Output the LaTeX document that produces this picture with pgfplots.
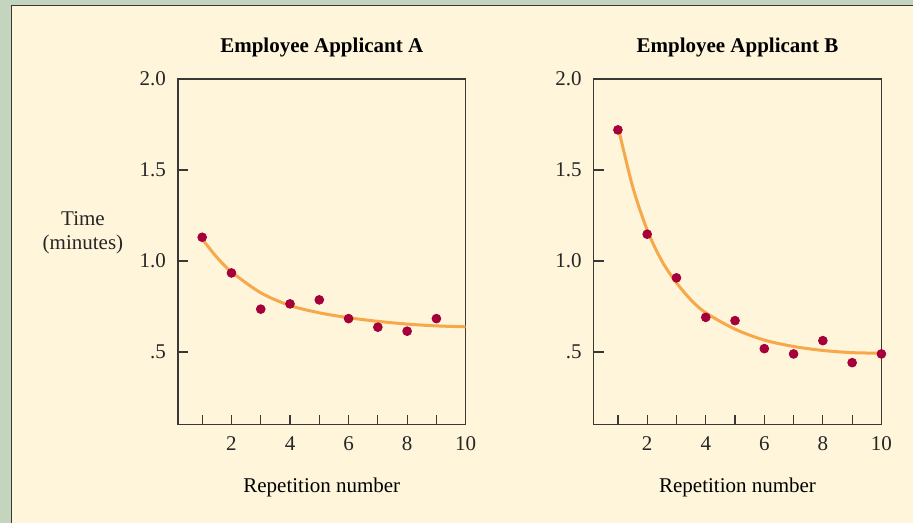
\documentclass[border=0pt]{standalone}
\usepackage{fontspec}
\setmainfont{Liberation Serif}
\usepackage{pgfplots}
\pgfplotsset{compat=1.18}
\definecolor{cream}{HTML}{FEF5DA}
\definecolor{sage}{HTML}{C4D5BD}
\definecolor{dot}{HTML}{A5003A}
\definecolor{curvec}{HTML}{F7A84A}
\definecolor{axc}{HTML}{3A3735}
\pgfplotsset{myax/.style={
 scale only axis, width=144pt, height=173pt,
 xmin=0.17, xmax=10, ymin=0.1, ymax=2.0,
 xtick={1,...,10}, xticklabels={,2,,4,,6,,8,,10},
 ytick={0.5,1,1.5,2}, yticklabels={.5,1.0,1.5,2.0},
 xtick pos=lower, ytick pos=left, tick align=inside,
 major tick length=5pt,
 axis line style={axc, line width=0.75pt},
 every tick/.style={axc, line width=0.6pt},
 tick label style={font=\fontsize{10.5}{12}\selectfont, text=black!85},
 yticklabel style={xshift=-2.5pt},
 xticklabel style={yshift=-2.5pt},
 /pgf/number format/assume math mode=true,
 clip=false,
 title style={font=\bfseries\fontsize{10.5}{12}\selectfont, at={(0.5,1)}, anchor=base, yshift=7pt},
 xlabel style={font=\fontsize{10.5}{12}\selectfont, at={(0.5,0)}, anchor=base, yshift=-34pt},
}}
\begin{document}
\begin{tikzpicture}
\fill[sage] (0,0) rectangle (457pt,261.5pt);
\fill[cream] (5.75pt,0) rectangle (457pt,258.75pt);
\draw[axc, line width=0.6pt] (5.75pt,0) -- (5.75pt,258.75pt) -- (457pt,258.75pt);
\begin{axis}[myax, at={(89pt,49pt)}, anchor=south west, title={Employee Applicant A}, xlabel={Repetition number}]
\addplot[curvec, line width=1.5pt, smooth, no marks] coordinates {(1,1.12)(1.5,1.02)(2,0.94)(3,0.825)(4,0.755)(5,0.715)(6,0.688)(7,0.668)(8,0.653)(9,0.643)(10,0.638)};
\addplot[only marks, mark=*, mark size=2.2pt, dot] coordinates {(1,1.13)(2,0.934)(3,0.735)(4,0.764)(5,0.786)(6,0.683)(7,0.636)(8,0.614)(9,0.683)};
\end{axis}
\begin{axis}[myax, at={(297pt,49pt)}, anchor=south west, title={Employee Applicant B}, xlabel={Repetition number}]
\addplot[curvec, line width=1.5pt, smooth, no marks] coordinates {(1,1.74)(1.5,1.41)(2,1.17)(2.5,1.0)(3,0.88)(3.5,0.785)(4,0.715)(5,0.625)(6,0.565)(7,0.53)(8,0.508)(9,0.496)(10,0.493)};
\addplot[only marks, mark=*, mark size=2.2pt, dot] coordinates {(1,1.72)(2,1.147)(3,0.907)(4,0.69)(5,0.672)(6,0.518)(7,0.489)(8,0.562)(9,0.441)(10,0.489)};
\end{axis}
\node[align=center, font=\fontsize{10.5}{12}\selectfont, text=black!85] at (41.5pt,145pt) {Time\\(minutes)};
\end{tikzpicture}
\end{document}
